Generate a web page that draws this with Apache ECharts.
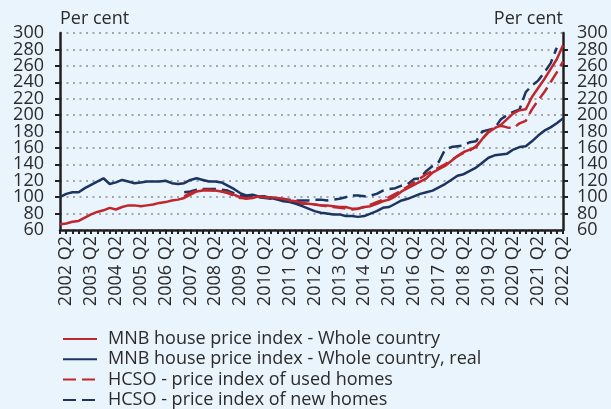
<!DOCTYPE html>
<html>
<head>
<meta charset="utf-8">
<script src="https://cdn.jsdelivr.net/npm/echarts@6/dist/echarts.min.js"></script>
<style>
  html, body { margin: 0; padding: 0; background: #e9f4fc; }
  #chart { width: 611px; height: 409px; }
</style>
</head>
<body>
<div id="chart"></div>
<script>
// quarterly data, 2002 Q1 - 2022 Q2
var years = ['2002', '2003', '2004', '2005', '2006', '2007', '2008', '2009', '2010', '2011',
  '2012', '2013', '2014', '2015', '2016', '2017', '2018', '2019', '2020', '2021', '2022']
var quarters = ['Q1', 'Q2', 'Q3', 'Q4']

var mnbNominal = [
  67, 68, 70, 71, 75, 79, 82, 84, 87, 85, 88, 90, 90, 89, 90, 91,
  93, 94, 96, 97, 99, 103, 107, 108, 108, 108, 107, 106, 103, 100, 98, 99,
  101, 100, 100, 99, 98, 96, 95, 93, 92, 91, 90, 90, 89, 88, 88, 86,
  86, 88, 89, 92, 95, 97, 101, 107, 111, 115, 119, 123, 130, 134, 138, 144,
  150, 155, 158, 161, 171, 179, 184, 188, 195, 202, 206, 207, 222, 233, 244, 256,
  268, 285
]
var mnbReal = [
  100, 104, 106, 106, 111, 115, 119, 123, 116, 118, 121, 119, 117, 118, 119, 119,
  119, 120, 117, 116, 117, 121, 123, 121, 119, 119, 118, 114, 110, 105, 102, 103,
  101, 101, 99, 97, 95, 94, 92, 89, 86, 83, 81, 80, 79, 79, 77, 77,
  76, 77, 80, 83, 87, 88, 92, 96, 98, 101, 104, 106, 108, 112, 116, 121,
  126, 128, 132, 136, 142, 148, 151, 152, 153, 158, 161, 162, 168, 175, 181, 185,
  190, 196
]
var hcsoUsed = [
  null, null, null, null, null, null, null, null, null, null, null, null, null, null, null, null,
  null, null, null, null, 101, 105, 108, 109, 109, 108, 107, 105, 102, 99, 99, 100,
  101, 100, 99, 98, 97, 95, 94, 92, 92, 91, 90, 89, 88, 87, 86, 85,
  86, 88, 91, 94, 97, 100, 104, 108, 113, 118, 123, 128, 132, 136, 140, 145,
  150, 154, 157, 162, 171, 180, 185, 187, 185, 184, 190, 193, 207, 218, 228, 240,
  252, 265
]
var hcsoNew = [
  null, null, null, null, null, null, null, null, null, null, null, null, null, null, null, null,
  null, null, null, null, 106, 107, 109, 110, 110, 110, 109, 108, 105, 102, 101, 100,
  100, 99, 98, 97, 97, 97, 96, 96, 96, 97, 97, 96, 97, 98, 100, 102,
  102, 101, 102, 104, 108, 110, 111, 114, 116, 122, 123, 132, 138, 143, 158, 161,
  162, 163, 167, 168, 180, 182, 184, 195, 200, 204, 207, 228, 236, 242, 252, 263,
  282, null
]
var seriesNames = [
  'MNB house price index - Whole country',
  'MNB house price index - Whole country, real',
  'HCSO - price index of used homes',
  'HCSO - price index of new homes'
]
var yMin = 60
var yMax = 300
var yStep = 20

var categories = []
years.forEach(function (y) {
  quarters.forEach(function (q) {
    if (categories.length < mnbNominal.length) categories.push(y + ' ' + q)
  })
})

var red = '#c0272d'
var navy = '#1d3461'
var textColor = '#2b2b2b'
var font = 'Open Sans'

function yAxis (side) {
  return {
    type: 'value',
    position: side,
    min: yMin,
    max: yMax,
    interval: yStep,
    name: 'Per cent',
    nameLocation: 'end',
    nameGap: 5,
    nameTextStyle: {
      color: textColor, fontSize: 18, fontFamily: font,
      align: side === 'left' ? 'left' : 'right'
    },
    axisLine: { show: true, onZero: false, lineStyle: { color: '#231f20', width: 2.5 } },
    axisTick: { show: true, length: 5, lineStyle: { color: '#231f20', width: 2 } },
    axisLabel: {
      margin: side === 'left' ? 16 : 14,
      color: textColor,
      fontSize: 18,
      fontFamily: font
    },
    splitLine: {
      show: side === 'left',
      lineStyle: { color: '#8c8c8c', width: 1.5, type: [2, 4.5] }
    }
  }
}

// extra label-only axes so the end labels (60 and 300) are drawn too
function endLabelAxis (side) {
  return {
    type: 'value',
    position: side,
    min: yMin,
    max: yMax,
    interval: yStep,
    axisLine: { show: false },
    axisTick: { show: false },
    splitLine: { show: false },
    axisLabel: {
      showMinLabel: true,
      showMaxLabel: true,
      margin: side === 'left' ? 16 : 14,
      color: textColor,
      fontSize: 18,
      fontFamily: font,
      formatter: function (v) { return (v === yMin || v === yMax) ? String(v) : '' }
    }
  }
}

var option = {
  backgroundColor: '#e9f4fc',
  animation: false,
  grid: { left: 60, right: 48, top: 33, bottom: 179, containLabel: false, outerBoundsMode: 'none' },
  legend: {
    orient: 'vertical',
    left: 62,
    top: 330,
    height: 100,
    itemWidth: 34,
    itemHeight: 16,
    itemGap: 2.3,
    padding: 0,
    data: seriesNames,
    itemStyle: { opacity: 0 },
    textStyle: { color: textColor, fontSize: 18, fontFamily: font, padding: [0, 0, 0, 6] }
  },
  xAxis: {
    type: 'category',
    boundaryGap: false,
    data: categories,
    axisLine: { lineStyle: { color: '#231f20', width: 2.5 } },
    axisTick: { show: true, interval: 0, length: 4, lineStyle: { color: '#231f20', width: 2 } },
    axisLabel: {
      rotate: 90,
      margin: 6,
      color: textColor,
      fontSize: 18,
      fontFamily: font,
      interval: function (idx) { return idx % 4 === 1 }
    },
    splitLine: { show: false }
  },
  yAxis: [yAxis('left'), yAxis('right'), endLabelAxis('left'), endLabelAxis('right')],
  series: [
    {
      name: seriesNames[0], type: 'line', data: mnbNominal, symbol: 'none',
      lineStyle: { color: red, width: 2.5 }, itemStyle: { color: red }, z: 4
    },
    {
      name: seriesNames[1], type: 'line', data: mnbReal, symbol: 'none',
      lineStyle: { color: navy, width: 2.5 }, itemStyle: { color: navy }, z: 3
    },
    {
      name: seriesNames[2], type: 'line', data: hcsoUsed, symbol: 'none',
      lineStyle: { color: red, width: 2.5, type: [13, 6] }, itemStyle: { color: red }, z: 2
    },
    {
      name: seriesNames[3], type: 'line', data: hcsoNew, symbol: 'none',
      lineStyle: { color: navy, width: 2.5, type: [13, 6] }, itemStyle: { color: navy }, z: 1
    }
  ]
}

var chart = echarts.init(document.getElementById('chart'), null, { renderer: 'canvas' })
chart.setOption(option)
</script>
</body>
</html>
